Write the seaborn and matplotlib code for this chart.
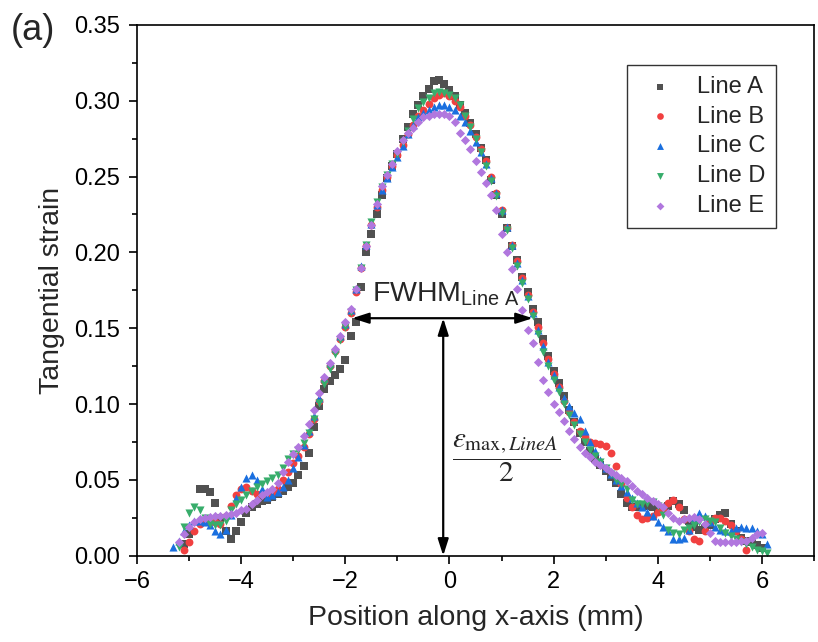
import numpy as np
import pandas as pd
import matplotlib
matplotlib.use("Agg")
import matplotlib.pyplot as plt
from matplotlib.ticker import MultipleLocator, FormatStrFormatter
import seaborn as sns

nan = np.nan

# sampling positions along the x-axis (mm)
x_mm = [-5.3, -5.2, -5.1, -5.0, -4.9, -4.8, -4.7, -4.6, -4.5, -4.4,
        -4.3, -4.2, -4.1, -4.0, -3.9, -3.8, -3.7, -3.6, -3.5, -3.4,
        -3.3, -3.2, -3.1, -3.0, -2.9, -2.8, -2.7, -2.6, -2.5, -2.4,
        -2.3, -2.2, -2.1, -2.0, -1.9, -1.8, -1.7, -1.6, -1.5, -1.4,
        -1.3, -1.2, -1.1, -1.0, -0.9, -0.8, -0.7, -0.6, -0.5, -0.4,
        -0.3, -0.2, -0.1, 0.0, 0.1, 0.2, 0.3, 0.4, 0.5, 0.6,
        0.7, 0.8, 0.9, 1.0, 1.1, 1.2, 1.3, 1.4, 1.5, 1.6,
        1.7, 1.8, 1.9, 2.0, 2.1, 2.2, 2.3, 2.4, 2.5, 2.6,
        2.7, 2.8, 2.9, 3.0, 3.1, 3.2, 3.3, 3.4, 3.5, 3.6,
        3.7, 3.8, 3.9, 4.0, 4.1, 4.2, 4.3, 4.4, 4.5, 4.6,
        4.7, 4.8, 4.9, 5.0, 5.1, 5.2, 5.3, 5.4, 5.5, 5.6,
        5.7, 5.8, 5.9, 6.0, 6.1]

line_a = [nan, nan, 0.008, 0.014, nan, 0.044, 0.044, 0.042, 0.035, 0.025,
          0.016, 0.011, 0.016, 0.022, 0.028, 0.032, 0.034, 0.036, 0.037, 0.039,
          0.041, 0.043, 0.045, 0.048, 0.053, 0.059, 0.068, 0.085, 0.099, 0.110,
          0.115, 0.119, 0.123, 0.129, 0.145, 0.154, 0.177, 0.200, 0.212, 0.225,
          0.238, 0.249, 0.257, 0.265, 0.275, 0.283, 0.291, 0.297, 0.303, 0.308,
          0.313, 0.314, 0.311, 0.307, 0.303, 0.297, 0.292, 0.285, 0.278, 0.269,
          0.261, 0.248, 0.238, 0.225, 0.216, 0.204, 0.195, 0.184, 0.174, 0.163,
          0.154, 0.143, 0.132, 0.122, 0.114, 0.105, 0.096, 0.088, 0.081, 0.075,
          0.069, 0.064, 0.060, 0.056, 0.052, 0.048, 0.041, 0.035, 0.032, 0.032,
          0.033, 0.033, 0.032, 0.031, 0.031, 0.033, 0.036, 0.034, 0.030, 0.023,
          0.019, 0.017, 0.018, 0.020, 0.024, 0.027, 0.028, 0.021, 0.016, 0.012,
          0.010, 0.009, 0.007, 0.005, nan]

line_b = [nan, nan, 0.004, 0.009, 0.016, 0.021, 0.023, 0.022, 0.022, 0.021,
          0.026, 0.033, 0.040, 0.044, 0.045, 0.043, 0.041, 0.041, 0.041, 0.042,
          0.044, 0.050, 0.055, 0.061, 0.066, 0.072, 0.080, 0.090, 0.102, 0.115,
          0.125, 0.135, 0.143, 0.151, 0.160, 0.174, 0.190, 0.204, 0.218, 0.230,
          0.241, 0.250, 0.257, 0.264, 0.271, 0.278, 0.284, 0.290, 0.294, 0.298,
          0.302, 0.304, 0.305, 0.303, 0.300, 0.296, 0.290, 0.284, 0.276, 0.268,
          0.260, 0.250, 0.239, 0.228, 0.216, 0.205, 0.194, 0.183, 0.172, 0.161,
          0.151, 0.140, 0.130, 0.120, 0.111, 0.102, 0.095, 0.088, 0.082, 0.078,
          0.075, 0.074, 0.0737, 0.0726, 0.068, 0.059, 0.047, 0.038, 0.032, 0.027,
          0.0245, 0.025, 0.026, 0.029, 0.031, 0.035, 0.037, 0.032, 0.024, 0.016,
          0.011, 0.010, 0.016, 0.022, 0.025, 0.025, 0.023, 0.020, 0.016, 0.011,
          0.004, nan, nan, nan, nan]

line_c = [0.006, 0.010, 0.016, 0.020, 0.023, 0.023, 0.022, 0.020, 0.016, 0.014,
          0.017, 0.027, 0.038, 0.045, 0.051, 0.053, 0.050, 0.044, 0.039, 0.040,
          0.042, 0.045, 0.050, 0.058, 0.065, 0.073, 0.082, 0.092, 0.104, 0.117,
          0.127, 0.137, 0.145, 0.153, 0.162, 0.176, 0.191, 0.205, 0.219, 0.231,
          0.241, 0.249, 0.256, 0.263, 0.270, 0.278, 0.284, 0.289, 0.292, 0.294,
          0.296, 0.297, 0.297, 0.296, 0.294, 0.290, 0.286, 0.280, 0.273, 0.266,
          0.258, 0.249, 0.239, 0.228, 0.217, 0.205, 0.193, 0.182, 0.171, 0.160,
          0.149, 0.138, 0.128, 0.119, 0.111, 0.104, 0.099, 0.094, 0.090, 0.082,
          0.075, 0.069, 0.063, 0.058, 0.054, 0.050, 0.046, 0.042, 0.038, 0.035,
          0.032, 0.029, 0.026, 0.022, 0.019, 0.016, 0.011, 0.011, 0.012, 0.017,
          0.024, 0.028, 0.026, 0.022, 0.019, 0.017, 0.016, 0.016, 0.018, 0.019,
          0.018, 0.018, 0.016, 0.014, 0.008]

line_d = [nan, 0.006, 0.019, 0.028, 0.032, 0.030, 0.025, 0.021, 0.020, 0.020,
          0.023, 0.030, 0.034, 0.037, 0.040, 0.043, 0.045, 0.047, 0.049, 0.051,
          0.053, 0.058, 0.064, 0.067, 0.070, 0.074, 0.081, 0.090, 0.101, 0.113,
          0.123, 0.133, 0.142, 0.151, 0.161, 0.175, 0.190, 0.205, 0.220, 0.233,
          0.243, 0.251, 0.258, 0.265, 0.273, 0.280, 0.288, 0.295, 0.299, 0.302,
          0.305, 0.306, 0.305, 0.304, 0.302, 0.297, 0.290, 0.283, 0.275, 0.266,
          0.257, 0.247, 0.237, 0.226, 0.215, 0.203, 0.191, 0.180, 0.169, 0.158,
          0.146, 0.134, 0.125, 0.116, 0.108, 0.100, 0.093, 0.086, 0.080, 0.075,
          0.070, 0.066, 0.062, 0.058, 0.054, 0.050, 0.047, 0.044, 0.037, 0.034,
          0.034, 0.035, 0.0353, 0.033, 0.027, 0.017, 0.015, 0.0145, 0.017, 0.018,
          0.020, 0.022, 0.024, 0.023, 0.022, 0.018, 0.015, 0.013, 0.011, 0.009,
          0.008, 0.006, 0.004, 0.003, 0.002]

line_e = [nan, 0.009, 0.014, 0.019, 0.022, 0.024, 0.025, 0.0255, 0.026, 0.026,
          0.027, 0.0275, 0.028, 0.030, 0.031, 0.034, 0.037, 0.040, 0.042, 0.044,
          0.048, 0.055, 0.062, 0.067, 0.072, 0.079, 0.087, 0.096, 0.107, 0.118,
          0.127, 0.136, 0.145, 0.154, 0.163, 0.176, 0.190, 0.204, 0.218, 0.232,
          0.244, 0.251, 0.258, 0.267, 0.274, 0.279, 0.282, 0.286, 0.289, 0.290,
          0.291, 0.291, 0.291, 0.290, 0.286, 0.279, 0.274, 0.268, 0.260, 0.253,
          0.246, 0.238, 0.228, 0.212, 0.200, 0.189, 0.176, 0.162, 0.149, 0.140,
          0.128, 0.116, 0.108, 0.100, 0.095, 0.089, 0.082, 0.077, 0.072, 0.068,
          0.065, 0.062, 0.060, 0.058, 0.055, 0.053, 0.051, 0.049, 0.046, 0.043,
          0.041, 0.038, 0.036, 0.034, 0.032, 0.028, 0.025, 0.023, 0.024, 0.025,
          0.0255, 0.024, 0.021, 0.015, 0.010, 0.009, 0.009, 0.009, 0.009, 0.0095,
          0.010, 0.012, 0.014, 0.015, nan]

series_names = ["Line A", "Line B", "Line C", "Line D", "Line E"]
series_colors = ["#515151", "#F14040", "#1A6FDF", "#37AD6B", "#B177DE"]
series_markers = ["s", "o", "^", "v", "D"]
marker_sizes = [30, 32, 34, 34, 22]

sns.set_style("ticks")
plt.rcParams["font.family"] = ["Liberation Sans", "DejaVu Sans"]
plt.rcParams["mathtext.fontset"] = "custom"
plt.rcParams["mathtext.rm"] = "Liberation Sans"
plt.rcParams["mathtext.it"] = "Liberation Sans:italic"

df = pd.DataFrame({"x": x_mm, "Line A": line_a, "Line B": line_b,
                   "Line C": line_c, "Line D": line_d, "Line E": line_e})
long_df = df.melt(id_vars="x", var_name="series", value_name="strain").dropna()

fig = plt.figure(figsize=(8.18, 6.42), dpi=100)
ax = fig.add_axes([0.1675, 0.1344, 0.8276, 0.8268])

for name, color, marker, size in zip(series_names, series_colors, series_markers, marker_sizes):
    sub = long_df[long_df["series"] == name]
    sns.scatterplot(data=sub, x="x", y="strain", color=color, marker=marker,
                    s=size, linewidth=0, alpha=1, label=name, ax=ax)

# FWHM and half-maximum arrows
arrow_kw = dict(arrowstyle="<|-|>,head_length=0.5,head_width=0.16", color="black",
                lw=1.6, mutation_scale=20, shrinkA=0, shrinkB=0)
ax.annotate("", xy=(-1.87, 0.1566), xytext=(1.6, 0.1566), arrowprops=arrow_kw)
ax.annotate("", xy=(-0.12, 0.0), xytext=(-0.12, 0.1566), arrowprops=arrow_kw)

ax.text(-1.48, 0.1678, r"FWHM$_{\mathrm{Line\ A}}$", fontsize=20.5, ha="left", va="baseline")
ax.text(1.08, 0.0644, r"$\dfrac{\varepsilon_{\mathrm{max},\mathit{LineA}}}{2}$",
        fontsize=21, ha="center", va="center", math_fontfamily="stix")

ax.set_xlim(-6, 7)
ax.set_ylim(0, 0.35)
ax.xaxis.set_major_locator(MultipleLocator(2))
ax.xaxis.set_minor_locator(MultipleLocator(1))
ax.yaxis.set_major_locator(MultipleLocator(0.05))
ax.yaxis.set_minor_locator(MultipleLocator(0.025))
ax.yaxis.set_major_formatter(FormatStrFormatter("%.2f"))

ax.tick_params(which="both", direction="out", top=False, right=False,
               width=1.2, colors="black", labelsize=17)
ax.tick_params(which="major", length=6)
ax.tick_params(which="minor", length=3.5)
ax.tick_params(axis="x", pad=5)
ax.tick_params(axis="y", pad=6)
for spine in ax.spines.values():
    spine.set_visible(True)
    spine.set_linewidth(1.2)
    spine.set_color("black")

ax.set_xlabel("Position along x-axis (mm)", fontsize=20.5)
ax.set_ylabel("Tangential strain", fontsize=20.5)
ax.xaxis.set_label_coords(0.5, -0.093)
ax.yaxis.set_label_coords(-0.107, 0.5)

leg = ax.legend(loc="upper right", bbox_to_anchor=(0.944, 0.924), fontsize=17,
                frameon=True, fancybox=False, edgecolor="#333333", framealpha=1,
                borderpad=0.45, labelspacing=0.33, handlelength=1.9,
                handletextpad=0.63, borderaxespad=0, scatterpoints=1,
                markerscale=0.85)
leg.get_frame().set_linewidth(1.0)

fig.text(0.013, 0.953, "(a)", fontsize=26, va="center", ha="left")

fig.savefig("out.png", dpi=100)
